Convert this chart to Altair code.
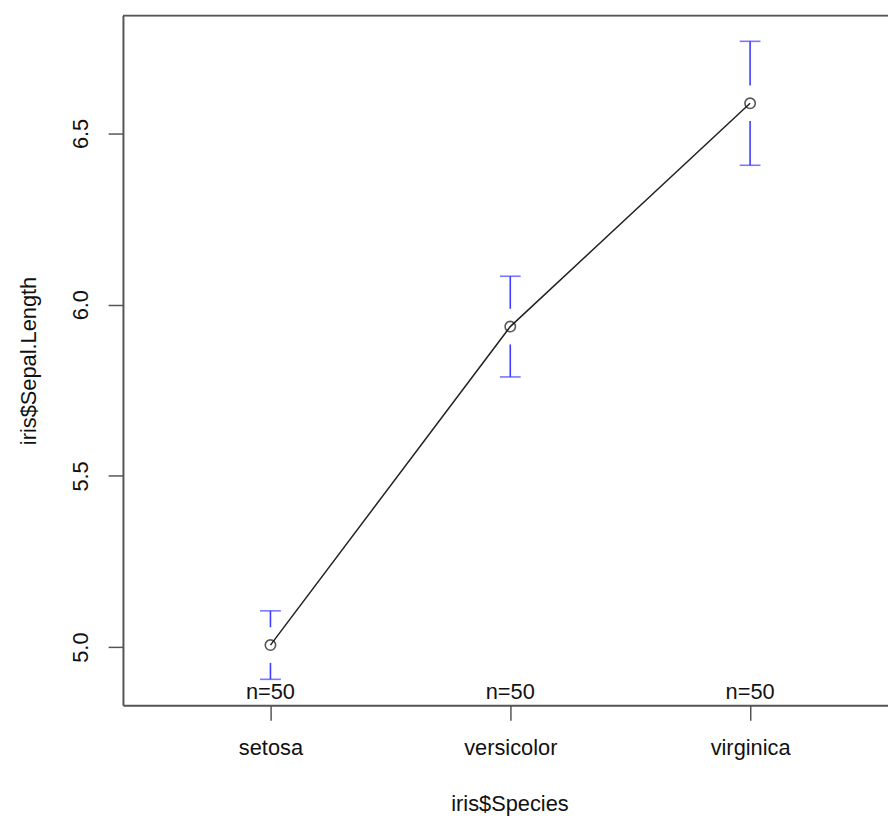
import json
import altair as alt
import pandas as pd

species = ["setosa", "versicolor", "virginica"]
positions = [1, 2, 3]
means = [5.006, 5.936, 6.588]
lower = [4.906, 5.789, 6.407]
upper = [5.106, 6.083, 6.769]
counts = [50, 50, 50]
y_ticks = [5.0, 5.5, 6.0, 6.5]
xlim = [0.385, 3.575]
ylim = [4.830, 6.844]
gap = 0.052  # gap between error bar and point marker (data units)

FONT = "Liberation Sans"
FS = 22
BAR = "#3d3dff"
BOX = "#555555"

df = pd.DataFrame({
    "pos": positions,
    "species": species,
    "mean": means,
    "lower": lower,
    "upper": upper,
    "label": [f"n={c}" for c in counts],
})
df["up_start"] = df["mean"] + gap
df["lo_end"] = df["mean"] - gap

label_expr = json.dumps(species) + "[datum.value - 1]"

xscale = alt.Scale(domain=xlim, nice=False, zero=False)
yscale = alt.Scale(domain=ylim, nice=False, zero=False)

xaxis = alt.Axis(
    values=positions, labelExpr=label_expr, title="iris$Species",
    grid=False, tickSize=15, tickColor=BOX, tickWidth=1.5,
    domainColor=BOX, domainWidth=2,
    labelFont=FONT, labelFontSize=FS, labelColor="#111", labelPadding=35,
    labelBaseline="alphabetic", labelFlush=False,
    titleFont=FONT, titleFontSize=FS, titleFontWeight="normal", titleColor="#111",
    titleBaseline="alphabetic", titleAlign="center", titleX=390, titleY=106,
)
yaxis = alt.Axis(
    values=y_ticks, format=".1f", title="iris$Sepal.Length",
    grid=False, tickSize=15, tickColor=BOX, tickWidth=1.5,
    domainColor=BOX, domainWidth=2,
    labelFont=FONT, labelFontSize=FS, labelColor="#111", labelAngle=270,
    labelAlign="center", labelBaseline="alphabetic", labelPadding=21,
    titleFont=FONT, titleFontSize=FS, titleFontWeight="normal", titleColor="#111",
    titleAngle=270, titleAlign="center", titleBaseline="alphabetic",
    titleX=-88, titleY=348,
)

base = alt.Chart(df)

line = base.mark_line(color="#222222", strokeWidth=1.5).encode(
    x=alt.X("pos:Q", scale=xscale, axis=xaxis),
    y=alt.Y("mean:Q", scale=yscale, axis=yaxis),
)
points = base.mark_point(shape="circle", filled=False, size=110,
                         color="#111111", strokeWidth=1.6).encode(
    x="pos:Q", y="mean:Q")

bar_up = base.mark_rule(color=BAR, strokeWidth=1.6).encode(
    x="pos:Q", y="upper:Q", y2="up_start:Q")
bar_lo = base.mark_rule(color=BAR, strokeWidth=1.6).encode(
    x="pos:Q", y="lower:Q", y2="lo_end:Q")
cap_up = base.mark_tick(color=BAR, orient="horizontal", size=21,
                        thickness=1.6).encode(x="pos:Q", y="upper:Q")
cap_lo = base.mark_tick(color=BAR, orient="horizontal", size=21,
                        thickness=1.6).encode(x="pos:Q", y="lower:Q")

ntext = base.mark_text(font=FONT, fontSize=FS, color="#111", baseline="alphabetic",
                       align="center", dy=-6).encode(
    x="pos:Q", y=alt.datum(ylim[0]), text="label:N")

top_border = alt.Chart(pd.DataFrame({"y": [ylim[1]]})).mark_rule(
    color=BOX, strokeWidth=2).encode(
    y="y:Q", x=alt.datum(xlim[0]), x2=alt.datum(xlim[1]))

chart = alt.layer(
    top_border, bar_up, bar_lo, cap_up, cap_lo, line, points, ntext
).properties(
    width=772, height=696,
    autosize=alt.AutoSizeParams(type="none"),
    padding={"left": 116, "top": 4, "right": 0, "bottom": 113},
).configure_view(strokeWidth=0).configure(background="white")

chart.save("out.html", embed_options={"renderer": "svg", "actions": False})
